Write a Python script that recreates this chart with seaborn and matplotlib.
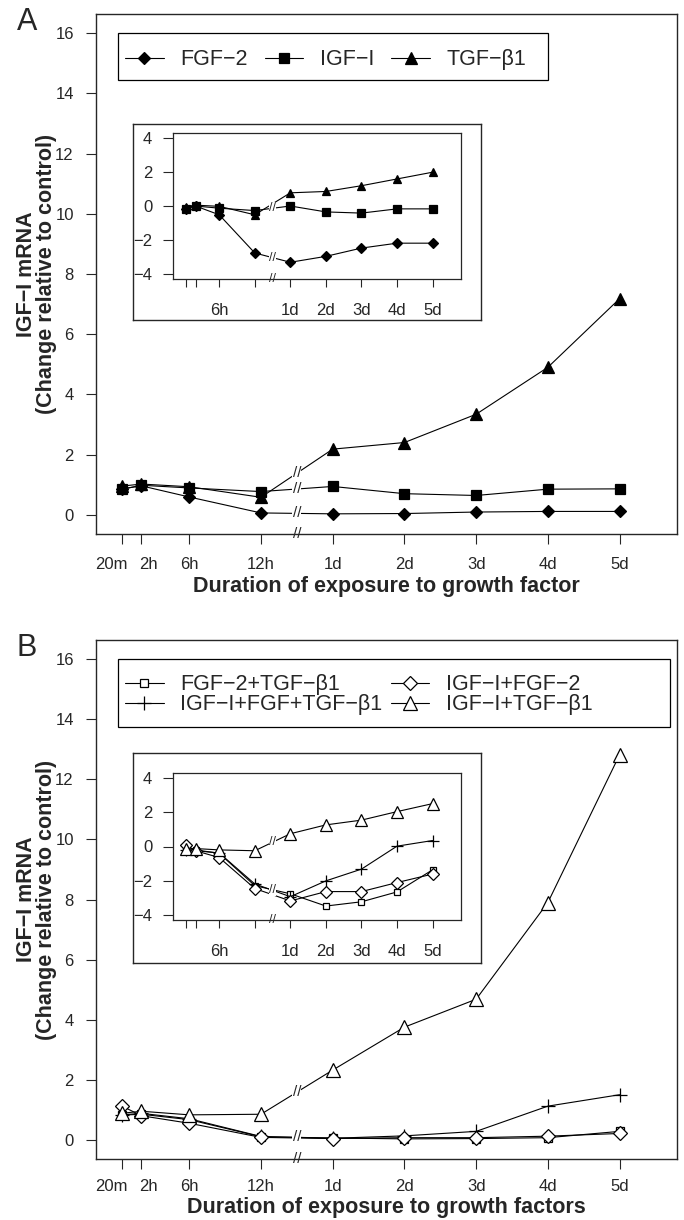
import numpy as np
import pandas as pd
import matplotlib
matplotlib.use('Agg')
import matplotlib.pyplot as plt
import matplotlib.transforms as mtrans
from matplotlib.patches import Rectangle
import seaborn as sns

sns.set_style('ticks')
plt.rcParams['font.family'] = ['Liberation Sans', 'DejaVu Sans']

times = ['20m', '2h', '6h', '12h', '1d', '2d', '3d', '4d', '5d']
# axis position: hours/6 before the break, one unit per day after it
xpos = [1 / 18, 1 / 3, 1, 2, 3, 4, 5, 6, 7]
inset_labels = ['', '', '6h', '', '1d', '2d', '3d', '4d', '5d']

# panel A, single growth factors
a_names = ['FGF\u22122', 'IGF\u2212I', 'TGF\u2212\u03b21']
a_fgf2 = [0.86, 0.96, 0.59, 0.06, 0.03, 0.04, 0.09, 0.11, 0.11]
a_igf1 = [0.84, 0.98, 0.89, 0.77, 0.94, 0.70, 0.64, 0.85, 0.86]
a_tgfb = [0.95, 1.02, 0.93, 0.58, 2.18, 2.40, 3.34, 4.90, 7.18]
# inset A (log scale values)
a_fgf2_in = [-0.15, 0.0, -0.52, -2.78, -3.33, -2.98, -2.49, -2.2, -2.2]
a_igf1_in = [-0.18, 0.0, -0.13, -0.27, 0.0, -0.35, -0.42, -0.17, -0.17]
a_tgfb_in = [-0.05, 0.05, -0.02, -0.52, 0.78, 0.86, 1.2, 1.6, 2.0]

# panel B, combinations
b_names = ['FGF\u22122+TGF\u2212\u03b21', 'IGF\u2212I+FGF+TGF\u2212\u03b21',
           'IGF\u2212I+FGF\u22122', 'IGF\u2212I+TGF\u2212\u03b21']
b_fgf_tgf = [0.82, 0.85, 0.67, 0.10, 0.06, 0.03, 0.04, 0.07, 0.28]
b_igf_fgf_tgf = [0.83, 0.88, 0.70, 0.11, 0.05, 0.13, 0.28, 1.12, 1.50]
b_igf_fgf = [1.13, 0.80, 0.55, 0.08, 0.04, 0.07, 0.07, 0.12, 0.21]
b_igf_tgf = [0.88, 0.95, 0.83, 0.85, 2.32, 3.75, 4.68, 7.90, 12.82]
b_fgf_tgf_in = [-0.2, -0.2, -0.4, -2.3, -2.78, -3.5, -3.25, -2.67, -1.37]
b_igf_fgf_tgf_in = [-0.2, -0.25, -0.38, -2.2, -2.95, -2.02, -1.33, 0.02, 0.35]
b_igf_fgf_in = [0.1, -0.25, -0.65, -2.47, -3.2, -2.65, -2.65, -2.12, -1.62]
b_igf_tgf_in = [-0.15, -0.12, -0.2, -0.25, 0.75, 1.27, 1.55, 2.05, 2.52]

a_style = [dict(marker='D', ms=6, mfc='black'),
           dict(marker='s', ms=7, mfc='black'),
           dict(marker='^', ms=8, mfc='black')]
b_style = [dict(marker='s', ms=6, mfc='white'),
           dict(marker='+', ms=10, mfc='white'),
           dict(marker='D', ms=7.5, mfc='white'),
           dict(marker='^', ms=10, mfc='white')]

fig = plt.figure(figsize=(6.84, 12.2), dpi=100)
W, H = 684, 1220


def px_axes(x0, y0, x1, y1):
    return fig.add_axes([x0 / W, 1 - y1 / H, (x1 - x0) / W, (y1 - y0) / H])


def draw_lines(ax, series, names, styles, scale=1.0):
    for vals, name, st in zip(series, names, styles):
        sns.lineplot(x=xpos, y=vals, ax=ax, color='black', linewidth=0.8,
                     marker=st['marker'], markersize=st['ms'] * scale,
                     markerfacecolor=st['mfc'], markeredgecolor='black',
                     markeredgewidth=0.9, label=name, legend=False)


def add_breaks(ax, series, fs, tol):
    placed = []
    for vals in series:
        ym = (vals[3] + vals[4]) / 2
        if any(abs(ym - p) < tol for p in placed):
            continue
        placed.append(ym)
        ax.text(2.5, ym, '//', ha='center', va='center', fontsize=fs, zorder=6,
                bbox=dict(fc='white', ec='none', pad=0.2))
    tr = mtrans.blended_transform_factory(ax.transData, ax.transAxes)
    ax.text(2.5, 0, '//', transform=tr, ha='center', va='center', fontsize=fs,
            clip_on=False, zorder=6)


def style_main(ax, xlabel, xlab_y, xpad):
    ax.set_xlim(-0.3, 7.8)
    ax.set_ylim(-0.64, 16.64)
    ax.set_yticks(range(0, 17, 2))
    ax.set_xticks(xpos)
    ax.set_xticklabels(times)
    ax.tick_params(axis='y', length=7, width=0.8, pad=9, labelsize=12)
    ax.tick_params(axis='x', length=7, width=0.8, pad=xpad, labelsize=12)
    # R spreads the two crowded first labels apart
    for lbl, dx in zip(ax.get_xticklabels()[:2], [-0.10, 0.07]):
        lbl.set_transform(lbl.get_transform() +
                          mtrans.ScaledTranslation(dx, 0, fig.dpi_scale_trans))
    for s in ax.spines.values():
        s.set_visible(True)
        s.set_linewidth(1.0)
    ax.set_xlabel(xlabel, fontsize=15.5, fontweight='bold')
    ax.xaxis.set_label_coords(0.5, xlab_y)
    ax.set_ylabel('IGF\u2212I mRNA\n(Change relative to control)', fontsize=15.5,
                  fontweight='bold', linespacing=0.95)
    ax.yaxis.set_label_coords(-0.067, 0.5)


def style_inset(ax):
    ax.set_xlim(-0.3, 7.8)
    ax.set_ylim(-4.32, 4.32)
    ax.set_yticks([-4, -2, 0, 2, 4])
    ax.set_xticks(xpos)
    ax.set_xticklabels(inset_labels)
    ax.tick_params(axis='y', length=7, width=0.8, pad=8, labelsize=12)
    ax.tick_params(axis='x', length=6, width=0.8, pad=11, labelsize=12)
    ax.set_xlabel('')
    ax.set_ylabel('')
    for s in ax.spines.values():
        s.set_visible(True)
        s.set_linewidth(0.9)


def frame(x0, y0, x1, y1):
    f = px_axes(x0, y0, x1, y1)
    f.set_xticks([])
    f.set_yticks([])
    f.set_facecolor('white')
    for s in f.spines.values():
        s.set_visible(True)
        s.set_linewidth(1.0)
    return f


def legend_box(ax, x1, y0, ncol, spacing, anchor_y, lspace):
    # R style legend: box anchored at (0, 16) in data units
    ax.add_patch(Rectangle((0, y0), x1, 16 - y0, fill=False, ec='black',
                           lw=0.9, zorder=7))
    h, l = ax.get_legend_handles_labels()
    ax.legend(h, l, loc='upper left', bbox_to_anchor=(0, anchor_y),
              bbox_transform=ax.transData, ncol=ncol, fontsize=15.5,
              frameon=False, borderpad=0.35, handlelength=1.8,
              handletextpad=0.75, columnspacing=spacing, labelspacing=lspace,
              borderaxespad=0)


# ---- panel A ----
axA = px_axes(96, 14, 677, 534)
a_main = [a_fgf2, a_igf1, a_tgfb]
draw_lines(axA, a_main, a_names, a_style)
add_breaks(axA, a_main, 11, 0.4)
style_main(axA, 'Duration of exposure to growth factor', -0.081, 9.5)
legend_box(axA, 6.0, 14.45, 3, 0.8, 15.72, 0)

frame(133, 124, 481, 320)
inA = px_axes(173, 133, 461, 279)
a_in = [a_fgf2_in, a_igf1_in, a_tgfb_in]
draw_lines(inA, a_in, a_names, a_style, scale=0.8)
add_breaks(inA, a_in, 9, 0.6)
style_inset(inA)

# ---- panel B ----
axB = px_axes(96, 640, 677, 1159)
b_main = [b_fgf_tgf, b_igf_fgf_tgf, b_igf_fgf, b_igf_tgf]
draw_lines(axB, b_main, b_names, b_style)
add_breaks(axB, b_main, 11, 0.4)
style_main(axB, 'Duration of exposure to growth factors', -0.074, 7.5)
legend_box(axB, 7.7, 13.75, 2, 0.4, 15.75, -0.05)

frame(133, 753, 481, 963)
inB = px_axes(173, 773, 461, 920)
b_in = [b_fgf_tgf_in, b_igf_fgf_tgf_in, b_igf_fgf_in, b_igf_tgf_in]
draw_lines(inB, b_in, b_names, b_style, scale=0.8)
add_breaks(inB, b_in, 9, 0.6)
style_inset(inB)

fig.text(27 / W, 1 - 22 / H, 'A', fontsize=22, ha='center', va='center')
fig.text(27 / W, 1 - 648 / H, 'B', fontsize=22, ha='center', va='center')

fig.savefig('out.png', dpi=100)
